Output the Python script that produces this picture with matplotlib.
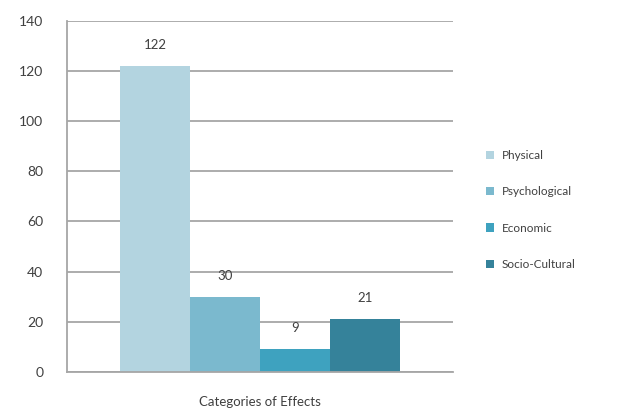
import matplotlib.pyplot as plt
import numpy as np

plt.rcParams['font.family'] = ['Lato', 'DejaVu Sans']

categories = ['Physical', 'Psychological', 'Economic', 'Socio-Cultural']
counts = [122, 30, 9, 21]
colors = ['#b3d4e0', '#7bb9ce', '#3ea2bf', '#35829a']
y_ticks = [0, 20, 40, 60, 80, 100, 120, 140]

fig = plt.figure(figsize=(6.19, 4.12), dpi=100)
ax = fig.add_axes([0.108, 0.097, 0.624, 0.853])

width = 0.181
offsets = (np.arange(len(categories)) - (len(categories) - 1) / 2) * width
for off, name, val, col in zip(offsets, categories, counts, colors):
    ax.bar(off, val, width=width, color=col, label=name, zorder=2)
    ax.text(off, val + 6, str(val), ha='center', va='bottom',
            fontsize=9.5, color='#404040')

ax.set_xlim(-0.5, 0.5)
ax.set_ylim(0, 140)
ax.set_yticks(y_ticks)
ax.set_xticks([])
ax.tick_params(axis='y', length=0, pad=17, labelsize=10, labelcolor='#404040')
ax.yaxis.grid(True, color='#a6a6a6', linewidth=1.3, zorder=0)
ax.set_axisbelow(True)

for side in ['top', 'right']:
    ax.spines[side].set_visible(False)
ax.spines['left'].set_color('#a6a6a6')
ax.spines['bottom'].set_color('#a6a6a6')
ax.spines['left'].set_linewidth(1.3)
ax.spines['bottom'].set_linewidth(1.3)

ax.set_xlabel('Categories of Effects', fontsize=9.5, color='#404040', labelpad=17)

ax.legend(loc='center left', bbox_to_anchor=(1.058, 0.461), frameon=False,
          fontsize=8.5, labelcolor='#404040', handlelength=0.7, handleheight=0.7,
          handletextpad=0.6, labelspacing=2.15)

fig.savefig('out.png', dpi=100)
